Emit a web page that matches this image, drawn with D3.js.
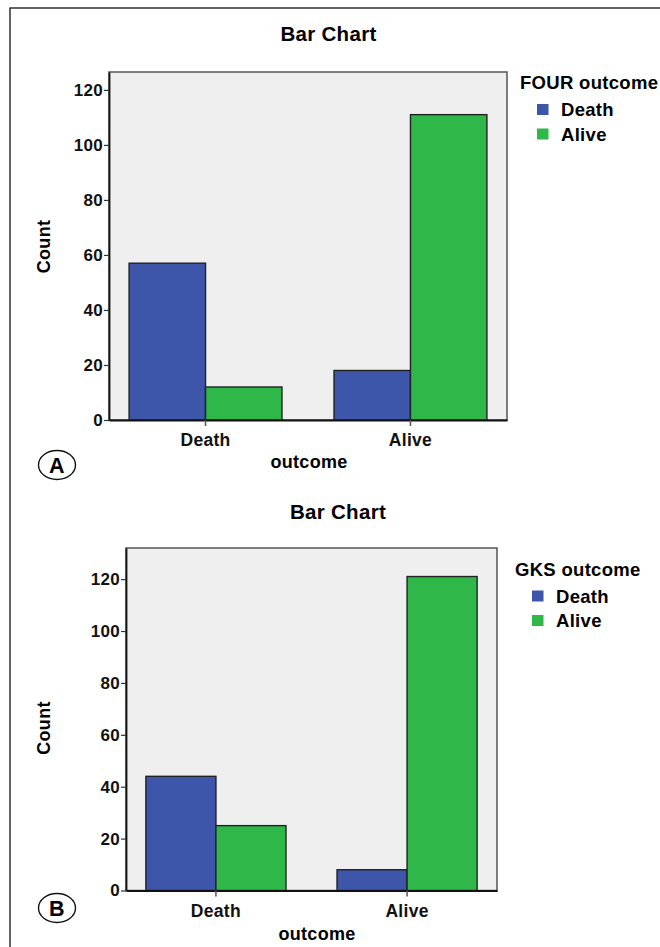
<!DOCTYPE html>
<html><head><meta charset="utf-8">
<script src="https://cdn.jsdelivr.net/npm/d3@7"></script>
<style>
html,body{margin:0;padding:0;background:#fff;}
svg{display:block;font-family:"Liberation Sans",Arial,Helvetica,sans-serif;font-weight:bold;letter-spacing:0.3px;}
</style></head>
<body><svg id="c" width="660" height="947"></svg>
<script>
const categories = ["Death", "Alive"];
const seriesNames = ["Death", "Alive"];
const fourDeath = [57, 18];
const fourAlive = [12, 111];
const gksDeath = [44, 8];
const gksAlive = [25, 121];
const yTicks = [0, 20, 40, 60, 80, 100, 120];
const colors = ["#3d56a9", "#2fb74a"];

const svg = d3.select("#c");
svg.append("rect").attr("x",10).attr("y",8).attr("width",700).attr("height",1000)
  .attr("fill","none").attr("stroke","#111").attr("stroke-width",1.3);

function panel(o){
  const g = svg.append("g");
  const x = d3.scaleBand().domain(categories).range([o.left,o.right]).paddingInner(o.pi).paddingOuter(o.po);
  const xs = d3.scaleBand().domain(seriesNames).range([0,x.bandwidth()]);
  const y = d3.scaleLinear().domain([0,o.ymax]).range([o.bottom,o.top]);
  g.append("text").attr("x",o.titleX).attr("y",o.titleY).attr("text-anchor","middle")
    .attr("font-size",20.5).text("Bar Chart");
  g.append("rect").attr("x",o.left).attr("y",o.top).attr("width",o.right-o.left).attr("height",o.bottom-o.top)
    .attr("fill","#efefef").attr("stroke","#555").attr("stroke-width",1.5);
  const series = [o.death,o.alive];
  series.forEach((vals,si)=>{
    g.selectAll(null).data(categories).enter().append("rect")
      .attr("x",d=>x(d)+xs(seriesNames[si]))
      .attr("y",(d,i)=>y(vals[i]))
      .attr("width",xs.bandwidth())
      .attr("height",(d,i)=>y(0)-y(vals[i]))
      .attr("fill",colors[si]).attr("stroke","#222").attr("stroke-width",1.4);
  });
  const ya = g.append("g").attr("transform",`translate(${o.left},0)`)
    .call(d3.axisLeft(y).tickValues(yTicks).tickSizeInner(5).tickSizeOuter(0).tickPadding(1));
  ya.select(".domain").attr("stroke","#111").attr("stroke-width",1.8);
  ya.selectAll(".tick line").attr("stroke","#333").attr("stroke-width",1.2);
  ya.selectAll(".tick text").attr("font-size",17).attr("font-weight","bold").attr("fill","#111")
    .attr("font-family",'"Liberation Sans",Arial,sans-serif');
  const xa = g.append("g").attr("transform",`translate(0,${o.bottom})`)
    .call(d3.axisBottom(x).tickSizeInner(6).tickSizeOuter(0).tickPadding(8));
  xa.select(".domain").attr("stroke","#111").attr("stroke-width",2);
  xa.selectAll(".tick line").attr("stroke","#555").attr("stroke-width",1.5);
  xa.selectAll(".tick text").attr("font-size",17.5).attr("font-weight","bold").attr("fill","#111")
    .attr("font-family",'"Liberation Sans",Arial,sans-serif');
  g.append("text").attr("transform",`translate(50,${o.countY}) rotate(-90)`).attr("text-anchor","middle")
    .attr("font-size",18).text("Count");
  g.append("text").attr("x",o.outX).attr("y",o.outY).attr("text-anchor","middle")
    .attr("font-size",18).text("outcome");
  g.append("text").attr("x",o.legX).attr("y",o.legY).attr("font-size",18.5).text(o.legTitle);
  seriesNames.forEach((s,i)=>{
    g.append("rect").attr("x",o.legX+17).attr("y",o.legY+15+i*24.5).attr("width",11.5).attr("height",11)
      .attr("fill",colors[i]);
    g.append("text").attr("x",o.legX+41).attr("y",o.legY+27+i*24.5).attr("font-size",18.5).text(s);
  });
  g.append("ellipse").attr("cx",57).attr("cy",o.letterY).attr("rx",18.5).attr("ry",14.5)
    .attr("fill","none").attr("stroke","#111").attr("stroke-width",1.4);
  g.append("text").attr("x",57).attr("y",o.letterY+8).attr("text-anchor","middle")
    .attr("font-size",21.5).text(o.letter);
}

panel({left:109,right:507,top:72,bottom:420,ymax:126.5,pi:0.254,po:0.098,
  death:fourDeath,alive:fourAlive,titleX:328.5,titleY:41,countY:246.5,outX:309,outY:468,
  legX:520,legY:89,legTitle:"FOUR outcome",letter:"A",letterY:465});
panel({left:126,right:497,top:548,bottom:890.5,ymax:132,pi:0.267,po:0.104,
  death:gksDeath,alive:gksAlive,titleX:338,titleY:518.5,countY:728,outX:317,outY:940,
  legX:515,legY:575.5,legTitle:"GKS outcome",letter:"B",letterY:908});
</script></body></html>
